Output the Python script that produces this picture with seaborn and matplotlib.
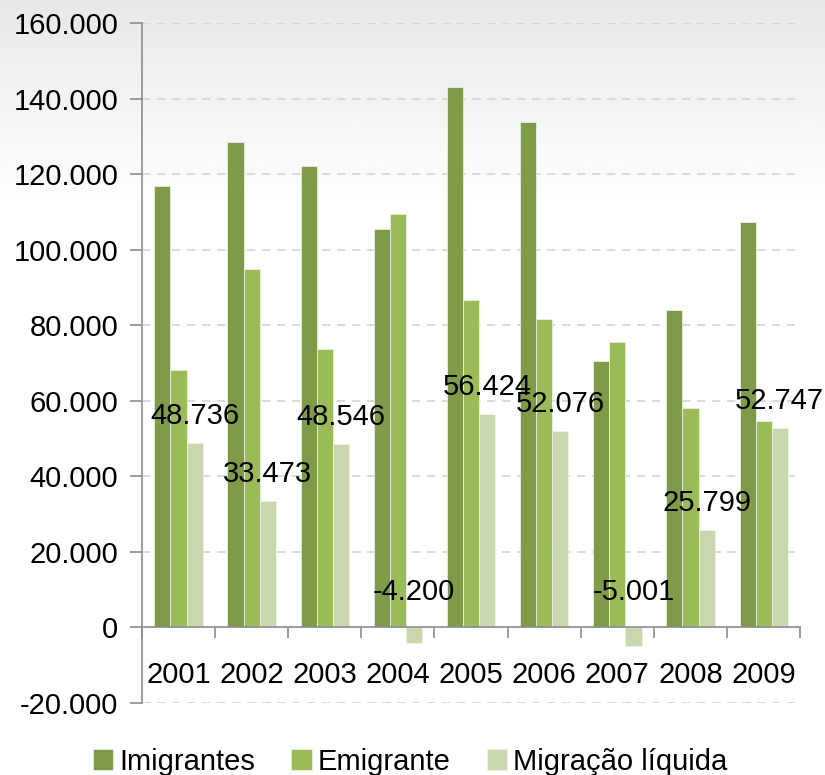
import numpy as np
import pandas as pd
import seaborn as sns
import matplotlib.pyplot as plt
from matplotlib.ticker import FuncFormatter, FixedLocator

anos = ["2001", "2002", "2003", "2004", "2005", "2006", "2007", "2008", "2009"]
imigrantes = [116900, 128500, 122100, 105400, 143200, 133800, 70600, 84000, 107400]
emigrante = [68200, 95000, 73600, 109600, 86800, 81700, 75600, 58200, 54700]
migracao = [48736, 33473, 48546, -4200, 56424, 52076, -5001, 25799, 52747]
series = ["Imigrantes", "Emigrante", "Migração líquida"]
cores = ["#7f9a48", "#9bbb59", "#c8d7ad"]

df = pd.DataFrame({
    "ano": anos * 3,
    "valor": imigrantes + emigrante + migracao,
    "serie": [s for s in series for _ in anos],
})

sns.set_theme(style="white")
plt.rcParams["font.family"] = ["Liberation Sans", "DejaVu Sans"]
plt.rcParams["text.color"] = "black"
plt.rcParams["xtick.labelcolor"] = "black"
plt.rcParams["ytick.labelcolor"] = "black"

fs = 21

fig = plt.figure(figsize=(8.25, 7.75), dpi=100)

# soft grey fade at the top of the background
bg = fig.add_axes([0, 0, 1, 1], zorder=-10)
grad = np.clip(0.91 + 0.09 * np.linspace(0, 1, 400) / 0.27, 0, 1)
bg.imshow(np.repeat(grad[:, None], 10, axis=1), cmap="gray", vmin=0, vmax=1,
          aspect="auto", extent=[0, 1, 0, 1])
bg.axis("off")

ax = fig.add_axes([0.172, 0.093, 0.798, 0.877])
ax.set_facecolor("none")

sns.barplot(data=df, x="ano", y="valor", hue="serie", palette=cores, saturation=1,
            width=0.66, ax=ax, edgecolor="#f2f5ea", linewidth=0.5)

ax.set_ylim(-20000, 160000)
ax.set_xlim(-0.5, len(anos) - 0.5)
ax.set_yticks(np.arange(-20000, 160001, 20000))
ax.yaxis.set_major_formatter(FuncFormatter(lambda v, p: f"{v:,.0f}".replace(",", ".")))
ax.set_xlabel("")
ax.set_ylabel("")

# dashed grid lines
for v in np.arange(-20000, 160001, 20000):
    if v != 0:
        ax.axhline(v, xmax=0.992, color="#d4d4d4", lw=1.2, ls=(0, (5, 4)), zorder=0)

for s in ["top", "right"]:
    ax.spines[s].set_visible(False)
ax.spines["bottom"].set_position(("data", 0))
ax.spines["bottom"].set_color("#8c8c8c")
ax.spines["left"].set_color("#8c8c8c")
ax.spines["bottom"].set_linewidth(1.2)
ax.spines["left"].set_linewidth(1.2)

ax.tick_params(axis="y", length=9, width=1.2, color="#8c8c8c", labelsize=fs, pad=8,
               direction="out", left=True)
ax.tick_params(axis="x", which="major", length=0, labelsize=fs, pad=24)
ax.xaxis.set_minor_locator(FixedLocator(np.arange(-0.5, len(anos), 1.0)))
ax.tick_params(axis="x", which="minor", length=8, width=1.2, color="#8c8c8c",
               direction="out", bottom=True)

# data labels on the net migration bars
net_bars = ax.containers[2]
for bar, v in zip(net_bars, migracao):
    y = max(v, 0) + (7200 if v > 0 else 9300)
    ax.text(bar.get_x() + bar.get_width() / 2, y, f"{v:,.0f}".replace(",", "."),
            ha="center", va="center", fontsize=fs, color="black", zorder=5)

handles, labels = ax.get_legend_handles_labels()
ax.get_legend().remove()
fig.legend(handles, labels, loc="lower center", ncol=3, frameon=False,
           fontsize=fs, bbox_to_anchor=(0.497, -0.035), handlelength=0.7,
           handleheight=0.7, handletextpad=0.2, columnspacing=1.25)

fig.savefig("out.png", dpi=100)
